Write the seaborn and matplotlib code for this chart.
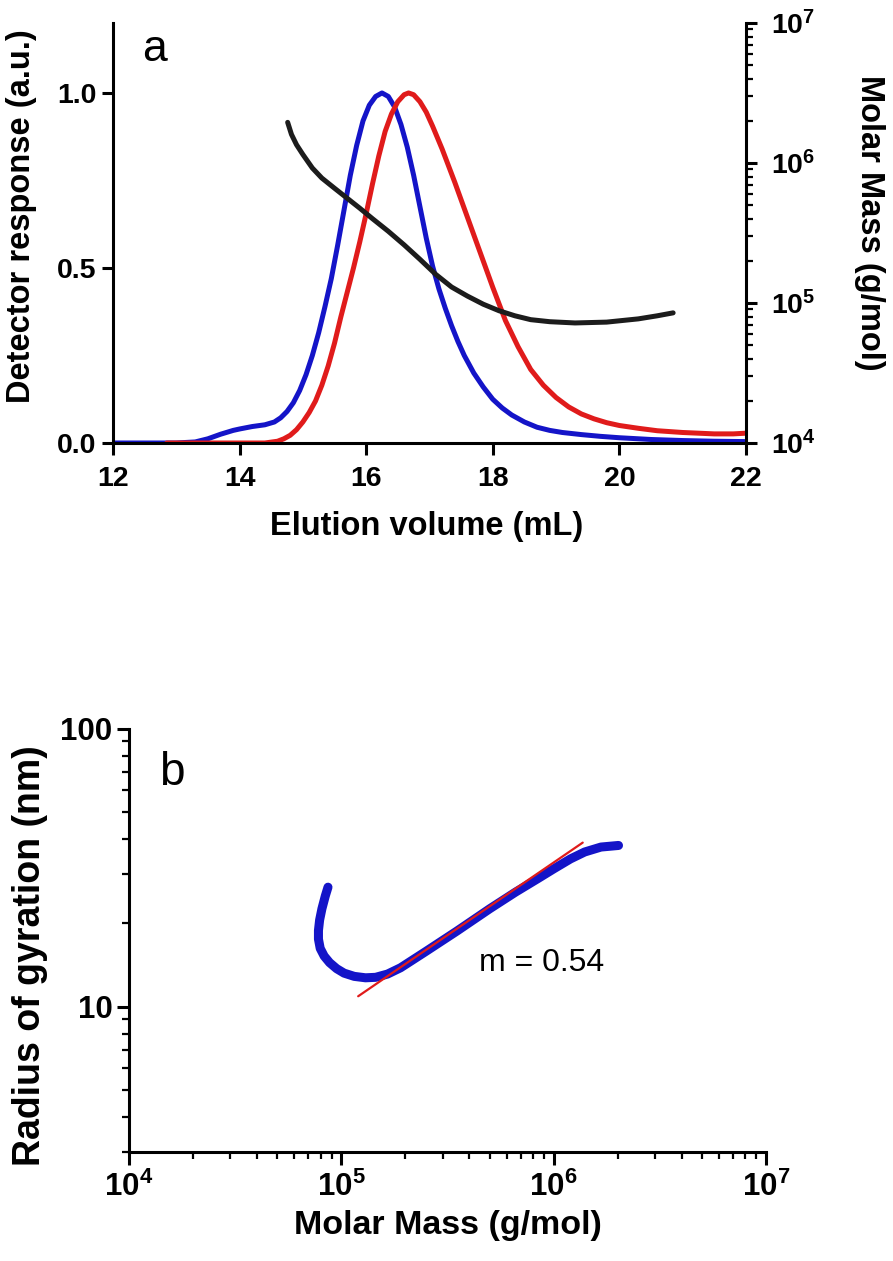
import numpy as np
import pandas as pd
import matplotlib
matplotlib.use("Agg")
import matplotlib.pyplot as plt
import matplotlib.ticker as mticker
import seaborn as sns

# panel a - normalised detector traces vs elution volume (mL)
vol_blue = [12.0, 13.0, 13.3, 13.5, 13.7, 13.9, 14.0, 14.2, 14.4, 14.55, 14.65, 14.75, 14.85, 14.95,
            15.05, 15.15, 15.25, 15.35, 15.45, 15.55, 15.65, 15.75, 15.85, 15.95, 16.05, 16.15,
            16.25, 16.35, 16.45, 16.55, 16.65, 16.75, 16.85, 16.95, 17.05, 17.15, 17.25, 17.35,
            17.45, 17.55, 17.7, 17.85, 18.0, 18.15, 18.3, 18.5, 18.7, 18.9, 19.1, 19.4, 19.7,
            20.0, 20.5, 21.0, 21.5, 22.0]
resp_blue = [0.0, 0.0, 0.003, 0.012, 0.025, 0.036, 0.04, 0.047, 0.052, 0.06, 0.072, 0.09, 0.115, 0.15,
             0.195, 0.25, 0.315, 0.39, 0.47, 0.565, 0.665, 0.765, 0.85, 0.92, 0.965, 0.99,
             1.0, 0.99, 0.96, 0.91, 0.845, 0.765, 0.675, 0.585, 0.505, 0.44, 0.385, 0.335,
             0.29, 0.25, 0.2, 0.16, 0.125, 0.1, 0.08, 0.06, 0.045, 0.036, 0.03, 0.024, 0.019,
             0.015, 0.01, 0.007, 0.005, 0.004]

vol_red = [12.85, 14.4, 14.6, 14.7, 14.8, 14.9, 15.0, 15.1, 15.2, 15.3, 15.4, 15.5, 15.6, 15.7,
           15.8, 15.9, 16.0, 16.1, 16.2, 16.3, 16.4, 16.5, 16.6, 16.67, 16.75, 16.85, 16.95,
           17.05, 17.2, 17.4, 17.6, 17.8, 18.0, 18.2, 18.4, 18.6, 18.8, 19.0, 19.2, 19.4, 19.6,
           19.8, 20.0, 20.3, 20.6, 21.0, 21.5, 21.8, 22.0]
resp_red = [0.0, 0.0, 0.005, 0.012, 0.022, 0.038, 0.06, 0.087, 0.12, 0.165, 0.22, 0.285, 0.36, 0.43,
            0.5, 0.575, 0.655, 0.74, 0.82, 0.89, 0.94, 0.975, 0.995, 1.0, 0.995, 0.975, 0.945,
            0.905, 0.84, 0.745, 0.645, 0.545, 0.445, 0.35, 0.275, 0.21, 0.165, 0.13, 0.103, 0.083, 0.069,
            0.058, 0.05, 0.042, 0.035, 0.03, 0.026, 0.026, 0.028]

vol_mass = [14.76, 14.82, 14.9, 15.0, 15.15, 15.3, 15.5, 15.7, 15.9, 16.1, 16.35, 16.6, 16.85, 17.1,
            17.35, 17.6, 17.85, 18.1, 18.35, 18.6, 18.9, 19.3, 19.8, 20.3, 20.6, 20.85]
molar_mass = [1.95e6, 1.6e6, 1.35e6, 1.15e6, 9.2e5, 7.8e5, 6.6e5, 5.6e5, 4.75e5, 4.0e5, 3.25e5, 2.6e5,
              2.05e5, 1.6e5, 1.3e5, 1.12e5, 9.8e4, 8.8e4, 8.1e4, 7.6e4, 7.35e4, 7.2e4, 7.3e4,
              7.7e4, 8.1e4, 8.5e4]

# panel b - Rg vs molar mass
mass_b = [8.65e4, 8.4e4, 8.1e4, 7.9e4, 7.8e4, 7.8e4, 7.95e4, 8.3e4, 8.8e4, 9.5e4, 1.03e5, 1.15e5,
          1.3e5, 1.45e5, 1.65e5, 1.9e5, 2.5e5, 3.5e5, 5.0e5, 6.6e5, 8.5e5, 1.0e6, 1.2e6, 1.4e6,
          1.67e6, 2.02e6]
rg_b = [26.9, 25.0, 22.5, 20.5, 18.8, 17.5, 16.2, 15.2, 14.4, 13.7, 13.2, 12.85,
        12.7, 12.75, 13.1, 13.8, 15.8, 18.7, 22.5, 25.8, 29.0, 31.3, 34.0, 36.0,
        37.5, 38.0]
fit_mass = [1.2e5, 1.37e6]
fit_rg = [10.9, 38.9]
slope_text = "m = 0.54"

BLUE = "#1414c8"
RED = "#e01b1b"
BLACK = "#1c1c1c"

sns.set_style("ticks")
plt.rcParams["font.family"] = ["Liberation Sans", "DejaVu Sans"]
plt.rcParams["font.weight"] = "bold"
plt.rcParams["axes.labelweight"] = "bold"
plt.rcParams["mathtext.fontset"] = "custom"
plt.rcParams["mathtext.rm"] = "Liberation Sans:bold"
plt.rcParams["mathtext.bf"] = "Liberation Sans:bold"
plt.rcParams["mathtext.default"] = "bf"
plt.rcParams["axes.linewidth"] = 2.2
for key in ["text.color", "axes.labelcolor", "xtick.color", "ytick.color", "axes.edgecolor"]:
    plt.rcParams[key] = "black"

fig = plt.figure(figsize=(8.93, 12.61), dpi=100)

# ---- panel a
ax = fig.add_axes([0.1265, 0.6487, 0.7088, 0.3331])
df_blue = pd.DataFrame({"vol": vol_blue, "resp": resp_blue})
df_red = pd.DataFrame({"vol": vol_red, "resp": resp_red})
sns.lineplot(data=df_blue, x="vol", y="resp", ax=ax, color=BLUE, lw=3.6, estimator=None,
             solid_joinstyle="round")
sns.lineplot(data=df_red, x="vol", y="resp", ax=ax, color=RED, lw=3.6, estimator=None,
             solid_joinstyle="round")
ax.set_xlim(12, 22)
ax.set_ylim(0, 1.2)
ax.set_xticks([12, 14, 16, 18, 20, 22])
ax.set_yticks([0, 0.5, 1.0])
ax.yaxis.set_major_formatter(mticker.FormatStrFormatter("%.1f"))
ax.tick_params(axis="x", width=2.2, length=8.5, labelsize=20.5, pad=8)
ax.tick_params(axis="y", width=2.2, length=8, labelsize=20.5, pad=4)
ax.spines["top"].set_visible(False)
ax.spines["right"].set_visible(False)
ax.set_xlabel("Elution volume (mL)", fontsize=23.5)
ax.set_ylabel("Detector response (a.u.)", fontsize=23.5)
ax.xaxis.label.set_va("center")
ax.yaxis.label.set_va("center")
ax.xaxis.set_label_coords(0.496, -0.2)
ax.yaxis.set_label_coords(-0.144, 0.54)
ax.text(0.065, 0.936, "a", transform=ax.transAxes, fontsize=32, fontweight="normal",
        ha="center", va="center")

ax2 = ax.twinx()
df_mass = pd.DataFrame({"vol": vol_mass, "mm": molar_mass})
sns.lineplot(data=df_mass, x="vol", y="mm", ax=ax2, color=BLACK, lw=3.6, estimator=None,
             solid_joinstyle="round")
ax2.set_yscale("log")
ax2.set_ylim(1e4, 1e7)
ax2.set_xlim(12, 22)
ax2.yaxis.set_major_locator(mticker.LogLocator(base=10, numticks=10))
ax2.yaxis.set_minor_locator(mticker.LogLocator(base=10, subs=np.arange(2, 10), numticks=10))
ax2.yaxis.set_minor_formatter(mticker.NullFormatter())
ax2.tick_params(axis="y", which="major", width=2.2, length=8, labelsize=20.5, pad=10)
ax2.tick_params(axis="y", which="minor", width=1.6, length=5)
for s in ["top", "left", "bottom"]:
    ax2.spines[s].set_visible(False)
ax2.spines["right"].set_linewidth(2.2)
ax2.set_ylabel("Molar Mass (g/mol)", fontsize=23.5, rotation=270)
ax2.yaxis.label.set_va("center")
ax2.yaxis.set_label_coords(1.196, 0.524)

# ---- panel b
bx = fig.add_axes([0.1445, 0.0864, 0.7133, 0.3358])
df_b = pd.DataFrame({"mass": mass_b, "rg": rg_b})
df_fit = pd.DataFrame({"mass": fit_mass, "rg": fit_rg})
sns.lineplot(data=df_b, x="mass", y="rg", ax=bx, color=BLUE, lw=6.5, sort=False,
             estimator=None, solid_capstyle="round", solid_joinstyle="round")
sns.lineplot(data=df_fit, x="mass", y="rg", ax=bx, color=RED, lw=1.6, sort=False, estimator=None)
bx.set_xscale("log")
bx.set_yscale("log")
bx.set_xlim(1e4, 1e7)
bx.set_ylim(3, 100)
bx.xaxis.set_major_locator(mticker.LogLocator(base=10, numticks=10))
bx.xaxis.set_minor_locator(mticker.LogLocator(base=10, subs=np.arange(2, 10), numticks=10))
bx.xaxis.set_minor_formatter(mticker.NullFormatter())
bx.set_yticks([10, 100])
bx.yaxis.set_major_formatter(mticker.FixedFormatter(["10", "100"]))
bx.yaxis.set_minor_locator(mticker.LogLocator(base=10, subs=np.arange(2, 10), numticks=10))
bx.yaxis.set_minor_formatter(mticker.NullFormatter())
bx.tick_params(axis="both", which="major", width=2.2, length=9, labelsize=22.5, pad=3)
bx.tick_params(axis="x", which="major", pad=5)
bx.tick_params(axis="both", which="minor", width=1.6, length=5)
bx.spines["top"].set_visible(False)
bx.spines["right"].set_visible(False)
bx.set_xlabel("Molar Mass (g/mol)", fontsize=24.5, labelpad=5)
bx.set_ylabel("Radius of gyration (nm)", fontsize=27)
bx.yaxis.label.set_va("center")
bx.yaxis.set_label_coords(-0.156, 0.465)
bx.text(0.0675, 0.895, "b", transform=bx.transAxes, fontsize=33, fontweight="normal",
        ha="center", va="center")
bx.text(0.647, 0.446, slope_text, transform=bx.transAxes, fontsize=23, fontweight="normal",
        ha="center", va="center")

fig.savefig("out.png", dpi=100)
